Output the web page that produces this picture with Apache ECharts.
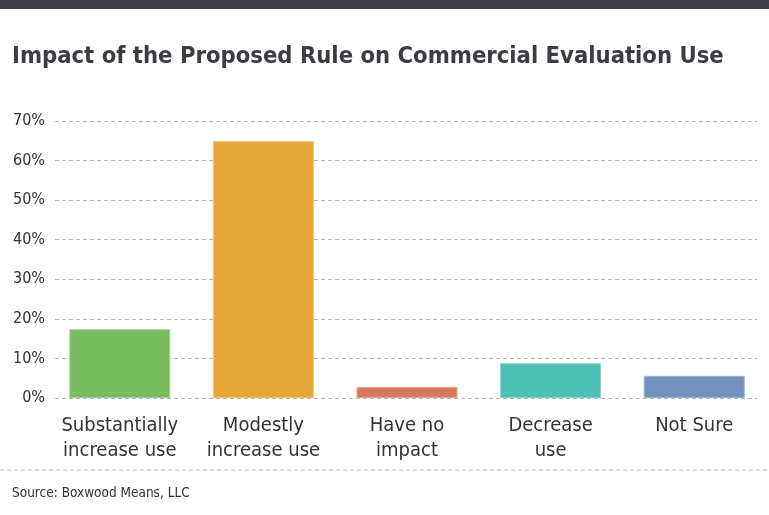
<!DOCTYPE html>
<html><head><meta charset="utf-8">
<script src="https://cdn.jsdelivr.net/npm/echarts@6/dist/echarts.min.js"></script>
<style>html,body{margin:0;padding:0;background:#fff}#c{width:769px;height:515px}</style>
</head><body><div id="c"></div>
<script>
const categories = ['Substantially\nincrease use', 'Modestly\nincrease use', 'Have no\nimpact', 'Decrease\nuse', 'Not Sure'];
const values = [17.4, 64.9, 2.8, 8.8, 5.6];
const colors = ['#77bc5f', '#e5a73a', '#d9785f', '#4dbfb3', '#7293bd'];
const borders = ['#a6d596', '#f0c275', '#eba28e', '#86d6cd', '#9db4d3'];
const yTicks = [0, 10, 20, 30, 40, 50, 60, 70];
const titleText = 'Impact of the Proposed Rule on Commercial Evaluation Use';
const sourceText = 'Source: Boxwood Means, LLC';

const font = '"DejaVu Sans Condensed", "Open Sans", sans-serif';
const chart = echarts.init(document.getElementById('c'), null, {renderer: 'canvas'});
chart.setOption({
  animation: false,
  backgroundColor: '#fff',
  title: {
    text: titleText, left: 12, top: 45, padding: 0,
    textStyle: {fontFamily: font, fontWeight: 'bold', fontSize: 23.6, color: '#3d3c42'}
  },
  graphic: [
    {type: 'rect', shape: {x: 0, y: 0, width: 769, height: 9}, style: {fill: '#3f3e44'}},
    {type: 'line', shape: {x1: 0, y1: 470, x2: 769, y2: 470}, style: {stroke: '#b5b5b5', lineWidth: 1, lineDash: [4, 3]}},
    {type: 'text', left: 12, top: 486, style: {text: sourceText, font: '13.5px ' + font, fill: '#333'}}
  ],
  grid: [
    {left: 55, right: 12, top: 121, bottom: 117, containLabel: false},
    {left: 48, right: 3, top: 121, bottom: 117, containLabel: false}
  ],
  xAxis: [
    {gridIndex: 0, type: 'value', show: false, min: 0, max: 1},
    {gridIndex: 1, type: 'category', data: categories,
     axisLine: {show: false}, axisTick: {show: false},
     axisLabel: {fontFamily: font, fontSize: 20, color: '#333', lineHeight: 25, margin: 15, interval: 0}}
  ],
  yAxis: [
    {gridIndex: 0, type: 'value', min: 0, max: 70, interval: 10,
     axisLine: {show: false}, axisTick: {show: false},
     axisLabel: {fontFamily: font, fontSize: 16, color: '#333', margin: 10,
       formatter: v => yTicks.includes(v) ? v + '%' : ''},
     splitLine: {show: true, lineStyle: {color: '#b5b5b5', type: [4, 3], width: 1}}},
    {gridIndex: 1, type: 'value', min: 0, max: 70, interval: 10, show: false, splitLine: {show: false}}
  ],
  series: [{
    type: 'bar', xAxisIndex: 1, yAxisIndex: 1,
    barWidth: 101,
    data: values.map((v, i) => ({value: v, itemStyle: {color: colors[i], borderColor: borders[i], borderWidth: 1}}))
  }]
});
</script></body></html>
